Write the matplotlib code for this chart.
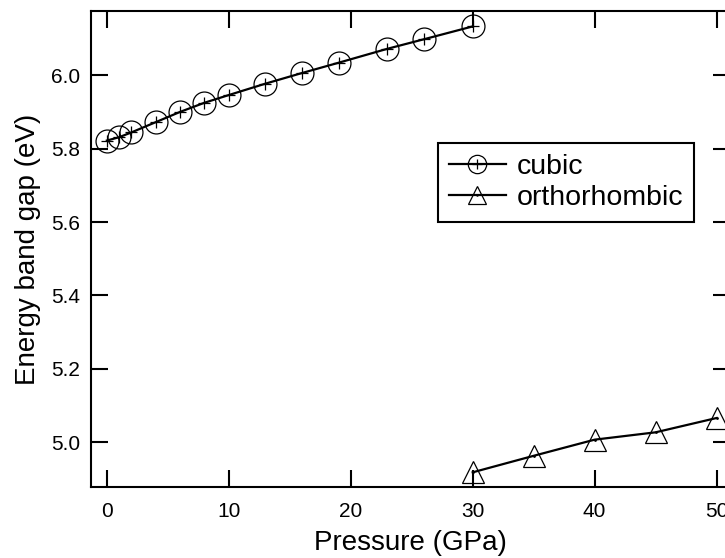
import matplotlib
matplotlib.use("Agg")
import matplotlib.pyplot as plt

plt.rcParams["font.family"] = ["Liberation Sans", "DejaVu Sans"]

# Band gap vs pressure
cubic_p = [0, 1, 2, 4, 6, 8, 10, 13, 16, 19, 23, 26, 30]
cubic_gap = [5.822, 5.831, 5.844, 5.872, 5.900, 5.925, 5.946, 5.977, 6.006,
             6.034, 6.072, 6.098, 6.133]
ortho_p = [30, 35, 40, 45, 50]
ortho_gap = [4.918, 4.963, 5.007, 5.027, 5.066]

xticks = [0, 10, 20, 30, 40, 50]
yticks = [5.0, 5.2, 5.4, 5.6, 5.8, 6.0]

fig = plt.figure(figsize=(7.25, 5.58), dpi=100)
ax = fig.add_axes([91 / 725, 1 - 487 / 558, 639 / 725, 476 / 558])

# cubic: line + open circles + small plus
l1, = ax.plot(cubic_p, cubic_gap, color="black", lw=1.6, marker="o", ms=16.5,
              mfc="none", mec="black", mew=0.9)
p1, = ax.plot(cubic_p, cubic_gap, ls="none", marker="+", ms=9, mec="black", mew=0.9)

# orthorhombic: line + open triangles + dot
l2, = ax.plot(ortho_p, ortho_gap, color="black", lw=1.6, marker="^", ms=16,
              mfc="none", mec="black", mew=0.9)
p2, = ax.plot(ortho_p, ortho_gap, ls="none", marker=".", ms=2, mec="black", mfc="black")

ax.set_xlim(-1.3, 51.1)
ax.set_ylim(4.878, 6.175)
ax.set_xticks(xticks)
ax.set_yticks(yticks)
ax.set_yticklabels([f"{v:.1f}" for v in yticks])

ax.tick_params(direction="in", length=12, width=1.5, top=True, right=True,
               labelsize=15, pad=8)
ax.tick_params(axis="x", pad=11)
for s in ax.spines.values():
    s.set_linewidth(1.5)

ax.set_xlabel("Pressure (GPa)", fontsize=20, labelpad=6)
ax.set_ylabel("Energy band gap (eV)", fontsize=20, labelpad=7)

leg = ax.legend([(l1, p1), (l2, p2)], ["cubic", "orthorhombic"],
                loc="upper left", bbox_to_anchor=(0.543, 0.723), borderaxespad=0,
                fontsize=20.5, fancybox=False, edgecolor="black", framealpha=1,
                markerscale=0.8, handlelength=2.0, handletextpad=0.4,
                borderpad=0.38, labelspacing=0.2)
leg.get_frame().set_linewidth(1.5)

fig.savefig("out.png", dpi=100)
